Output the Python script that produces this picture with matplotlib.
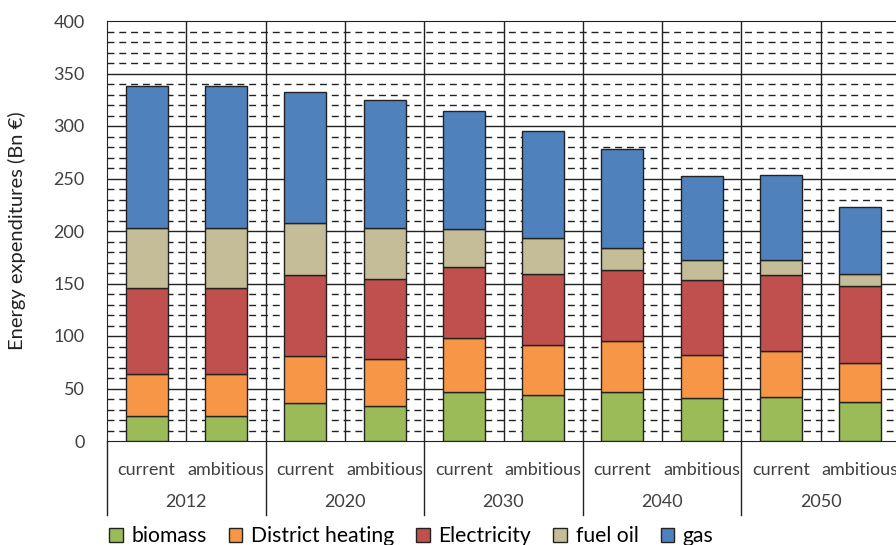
import numpy as np
import matplotlib
matplotlib.use('Agg')
import matplotlib.pyplot as plt
from matplotlib.patches import Patch

plt.rcParams['font.family'] = ['Lato', 'DejaVu Sans']

# 데이터 (Bn €)
years = ['2012', '2020', '2030', '2040', '2050']
scenarios = ['current', 'ambitious']
biomass = [24, 24, 36, 33.5, 47, 43.5, 47, 41, 42, 37]
district_heating = [40, 40, 45, 44.5, 51.5, 47.5, 48, 41, 44, 37]
electricity = [82, 82, 77, 76, 67, 68, 68, 71, 72, 74]
fuel_oil = [57, 57, 50, 49, 36.5, 34.5, 21, 19, 14, 11]
gas = [135, 135, 124, 122, 112, 102, 94, 80, 81, 64]

series = [('biomass', biomass, '#9BBB59'),
          ('District heating', district_heating, '#F79646'),
          ('Electricity', electricity, '#C0504D'),
          ('fuel oil', fuel_oil, '#C4BD97'),
          ('gas', gas, '#4F81BD')]

W, H = 896, 545
fig = plt.figure(figsize=(W/100, H/100), dpi=100)
ax = fig.add_axes([107/W, (H-441)/H, (900-107)/W, 420/H])

n = len(biomass)
x = np.arange(n)
bottom = np.zeros(n)
for name, vals, col in series:
    ax.bar(x, vals, 0.53, bottom=bottom, color=col, edgecolor='#222222', lw=1, zorder=3)
    bottom += np.array(vals)

ax.set_xlim(-0.5, n - 0.5)
ax.set_ylim(0, 400)

# 격자: 50 단위 실선, 10 단위 점선
for yv in range(10, 400, 10):
    if yv % 50 == 0:
        ax.axhline(yv, color='#222222', lw=1, zorder=1)
    else:
        ax.axhline(yv, color='#222222', lw=1, ls=(0, (5, 3.5)), zorder=1)
for xv in np.arange(0.5, n - 0.5, 1):
    ax.axvline(xv, color='#222222', lw=1, zorder=1)

for s in ['top', 'left', 'bottom']:
    ax.spines[s].set_color('#222222')
ax.spines['right'].set_visible(False)

ax.set_yticks(range(0, 401, 50))
ax.tick_params(axis='y', length=0, pad=16, labelsize=13, labelcolor='#404040')
ax.set_xticks(x, [scenarios[i % 2] for i in range(n)])
ax.tick_params(axis='x', length=0, pad=15, labelsize=13, labelcolor='#404040')
ax.set_ylabel('Energy expenditures (Bn €)', fontsize=14.5, color='#222222', labelpad=20)

# 연도 라벨 및 구분선
trans = ax.get_xaxis_transform()
sep = -(515 - 441) / 420
for g, yr in enumerate(years):
    ax.text(2*g + 0.5, -(502 - 441) / 420, yr, transform=trans, ha='center', va='center',
            fontsize=13, color='#404040')
for g in range(len(years) + 1):
    ax.plot([2*g - 0.5]*2, [0, sep], transform=trans, color='#222222', lw=1, clip_on=False)

handles = [Patch(facecolor=c, edgecolor='#222222', label=nm) for nm, _, c in series]
fig.legend(handles=handles, loc='center left', bbox_to_anchor=(109/W, 1 - 536/H), ncol=5,
           frameon=False, fontsize=15.2, handlelength=0.65, handleheight=0.65,
           handletextpad=0.4, columnspacing=1.05, borderaxespad=0, borderpad=0)

fig.savefig('out.png', dpi=100)
